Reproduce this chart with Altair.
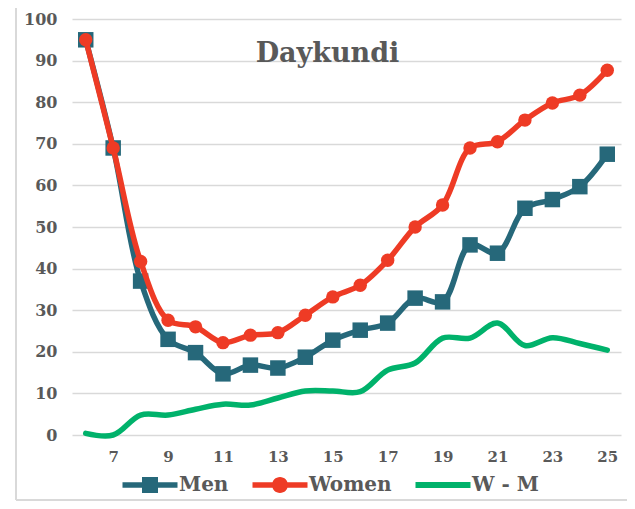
import altair as alt
import pandas as pd

ages = list(range(6, 26))
men = [95, 69, 37, 23, 19.8, 14.7, 16.8, 16.1, 18.7, 22.8, 25.2, 26.9, 32.9, 32, 45.7, 43.7, 54.5, 56.6, 59.7, 67.5]
women = [95, 69, 41.7, 27.6, 26, 22.2, 24, 24.6, 28.8, 33.2, 36, 42, 50, 55.3, 69, 70.5, 75.7, 79.8, 81.7, 87.7]
wm = [0.4, 0, 4.8, 4.8, 6.2, 7.4, 7.2, 8.9, 10.6, 10.6, 10.4, 15.6, 17.3, 23.3, 23.3, 26.9, 21.5, 23.4, 22, 20.4]

series_names = ["Men", "Women", "W - M"]
series_colors = ["#26687A", "#EE3B25", "#00B26B"]
title_text = "Daykundi"
x_tick_values = list(range(7, 26, 2))
y_tick_values = list(range(0, 101, 10))

FONT = "DejaVu Serif"
TXT = "#595959"

rows = []
for name, vals in zip(series_names, [men, women, wm]):
    for a, v in zip(ages, vals):
        rows.append({"age": a, "value": v, "series": name})
df = pd.DataFrame(rows)

x_enc = alt.X("age:Q", scale=alt.Scale(domain=[5.5, 25.5], nice=False, zero=False),
              axis=alt.Axis(values=x_tick_values, title=None, grid=False, domain=False, ticks=False,
                            labelFont=FONT, labelFontSize=15, labelFontWeight="bold", labelColor=TXT,
                            labelPadding=14))
y_enc = alt.Y("value:Q", scale=alt.Scale(domain=[0, 100], nice=False),
              axis=alt.Axis(values=y_tick_values, title=None, domain=False, ticks=False,
                            labelFont=FONT, labelFontSize=16, labelFontWeight="bold", labelColor=TXT,
                            labelPadding=15, gridColor="#d9d9d9", gridWidth=1.3))
color_scale = alt.Scale(domain=series_names, range=series_colors)

shape_paths = [
    "M-2.75,-0.27H2.75V0.27H-2.75Z M-0.8,-0.8H0.8V0.8H-0.8Z",
    "M-2.75,-0.27H2.75V0.27H-2.75Z M-0.8,0A0.8,0.8 0 1,1 0.8,0A0.8,0.8 0 1,1 -0.8,0Z",
    "M-2.75,-0.3H2.75V0.3H-2.75Z",
]

legend_props = dict(title=None, orient="none", legendX=68, legendY=456,
                    direction="horizontal", symbolSize=400, symbolStrokeWidth=0,
                    labelFont=FONT, labelFontSize=20, labelFontWeight="bold",
                    labelColor=TXT, labelOffset=19, columnPadding=23, padding=0)

base = alt.Chart(df)

legend_layer = base.mark_point(filled=True, opacity=1).encode(
    x=x_enc, y=y_enc,
    color=alt.Color("series:N", scale=color_scale, legend=alt.Legend(**legend_props)),
    shape=alt.Shape("series:N", scale=alt.Scale(domain=series_names, range=shape_paths),
                    legend=alt.Legend(**legend_props)),
).transform_filter("datum.age > 100")

lines = base.mark_line(interpolate="catmull-rom", strokeWidth=5.5, strokeCap="round").encode(
    x=x_enc, y=y_enc,
    color=alt.Color("series:N", scale=color_scale, legend=None),
    detail="series:N",
    order=alt.Order("age:Q"),
)

wm_line = lines.transform_filter(alt.datum.series == "W - M")
men_line = lines.transform_filter(alt.datum.series == "Men")
women_line = lines.transform_filter(alt.datum.series == "Women")

men_pts = base.transform_filter(alt.datum.series == "Men").mark_point(
    shape="square", filled=True, size=240, opacity=1).encode(
    x=x_enc, y=y_enc, color=alt.Color("series:N", scale=color_scale, legend=None))
women_pts = base.transform_filter(alt.datum.series == "Women").mark_point(
    shape="circle", filled=True, size=180, opacity=1).encode(
    x=x_enc, y=y_enc, color=alt.Color("series:N", scale=color_scale, legend=None))

title = alt.Chart(pd.DataFrame({"t": [title_text]})).mark_text(
    font=FONT, fontSize=27, fontWeight="bold", color=TXT, align="center", baseline="alphabetic"
).encode(text="t:N", x=alt.value(255.5), y=alt.value(43))

frame_df = pd.DataFrame({"k": [0]})
frame_left = alt.Chart(frame_df).mark_rule(color="#d9d9d9", strokeWidth=2).encode(
    x=alt.value(-56), y=alt.value(-11), y2=alt.value(481))
frame_bottom = alt.Chart(frame_df).mark_rule(color="#d9d9d9", strokeWidth=2).encode(
    x=alt.value(-56), x2=alt.value(555), y=alt.value(481))

chart = alt.layer(
    legend_layer, frame_left, frame_bottom, wm_line, men_line, men_pts, women_line, women_pts, title
).properties(
    width=549, height=416,
    autosize=alt.AutoSizeParams(type="none"),
    padding={"left": 64, "top": 11, "right": 6, "bottom": 66},
).configure_view(stroke=None)

chart.save("out.html", embed_options={"renderer": "svg", "actions": False})
